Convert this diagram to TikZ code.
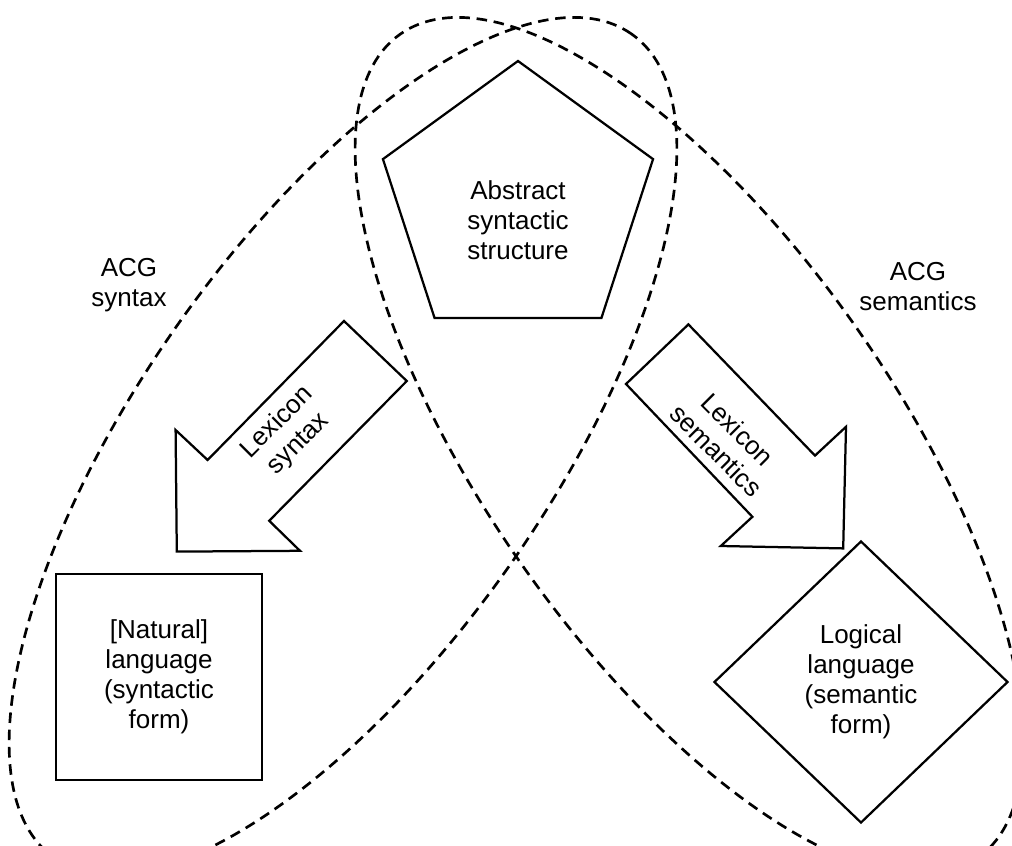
\documentclass[tikz,border=0pt]{standalone}
\usepackage{fontspec}
\setmainfont{Liberation Sans}
\usetikzlibrary{shapes.geometric}

\begin{document}
\begin{tikzpicture}[
    every node/.style = {font = \fontsize{18.5}{21.3}\selectfont, align = center},
    box/.style = {draw, fill = white, line width = 1.6pt, inner sep = 0pt},
    blockarrow/.style = {draw, fill = white, line width = 1.6pt, line join = miter},
    group/.style = {draw, line width = 1.9pt, dash pattern = on 7.5pt off 4.8pt}
]
    \useasboundingbox (0,0) rectangle (25.3,-21.15);
    \clip (0,0) rectangle (25.3,-21.15);

    \coordinate (synC) at (8.575,-11.15);
    \coordinate (semC) at (17.225,-11.15);
    \draw [group, rotate around = {55:(synC)}] (synC) ellipse [x radius = 12.575, y radius = 5.125];
    \draw [group, rotate around = {-55:(semC)}] (semC) ellipse [x radius = 12.575, y radius = 5.125];

    \node (acgsyn) at (3.225,-7.125) {ACG\\syntax};
    \node (acgsem) at (22.95,-7.175) {ACG\\semantics};

    \node [box, shape = regular polygon, regular polygon sides = 5, minimum size = 7.1cm] (abs) at (12.95,-5.075) {};
    \node (absT) at (12.95,-5.5) {Abstract\\syntactic\\structure};
    \node [box, shape = rectangle, minimum size = 5.15cm] (nat) at (3.975,-16.925) {[Natural]\\language\\(syntactic\\form)};
    \node [box, shape = diamond, minimum width = 7.35cm, minimum height = 7.05cm] (log) at (21.525,-17.05) {Logical\\language\\(semantic\\form)};

    \draw [blockarrow] (8.6,-8.025) -- (10.17,-9.525) -- (6.73,-13.02) -- (7.5,-13.77) -- (4.42,-13.79) -- (4.39,-10.75) -- (5.19,-11.5) -- cycle;
    \node [rotate = 45] (lexsyn) at (7.2,-10.83) {Lexicon\\syntax};

    \draw [blockarrow] (17.21,-8.11) -- (15.65,-9.6) -- (18.81,-12.92) -- (18.02,-13.65) -- (21.08,-13.71) -- (21.15,-10.67) -- (20.375,-11.39) -- cycle;
    \node [rotate = -45] (lexsem) at (18.175,-11.0) {Lexicon\\semantics};
\end{tikzpicture}
\end{document}
